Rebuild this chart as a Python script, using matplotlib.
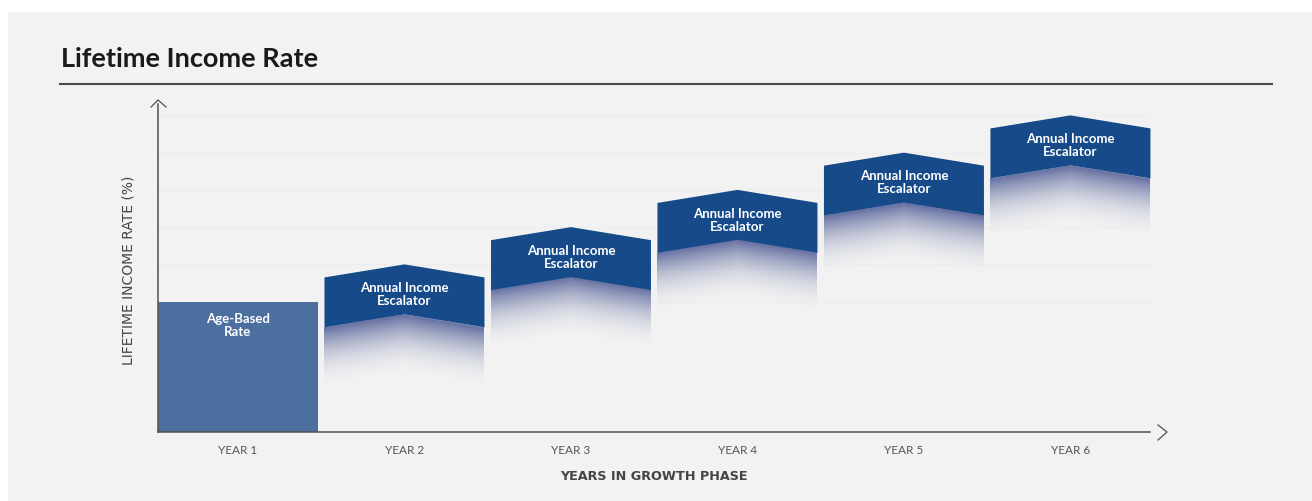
import numpy as np
import matplotlib
matplotlib.use("Agg")
import matplotlib.pyplot as plt
from matplotlib.patches import Polygon, Rectangle
from matplotlib.lines import Line2D

# chart data
years = ["YEAR 1", "YEAR 2", "YEAR 3", "YEAR 4", "YEAR 5", "YEAR 6"]
rates = [3.5, 4.5, 5.5, 6.5, 7.5, 8.5]
bar_labels = ["Age-Based\nRate"] + ["Annual Income\nEscalator"] * 5

# styles
BG = "#f2f2f2"
BASE_BLUE = "#4b6f9e"
ESC_BLUE = "#164a88"
FADE_RGB = np.array([63, 77, 140]) / 255.0
AXIS_COL = "#505050"
FONT = ["Lato", "DejaVu Sans"]
WIDE = ["DejaVu Sans"]

plt.rcParams["font.family"] = FONT

W, H = 1312, 501
fig = plt.figure(figsize=(W / 100, H / 100), dpi=100, facecolor="white")

# grey panel behind everything
fig.patches.append(Rectangle((8 / W, 0), 1 - 8 / W, 1 - 12 / H, transform=fig.transFigure,
                             facecolor=BG, edgecolor="none", zorder=-5))

# title and rule
fig.text(61 / W, 1 - 59 / H, "Lifetime Income Rate", fontsize=19.5, fontweight="bold",
         color="#1a1a1a", ha="left", va="center")
fig.lines.append(Line2D([60 / W, 1272 / W], [1 - 84 / H, 1 - 84 / H], transform=fig.transFigure,
                        color="#4a4a4a", lw=1.5))

ax = fig.add_axes([158 / W, (H - 432) / H, (1170 - 158) / W, (432 - 100) / H])
ax.set_facecolor("none")
for s in ax.spines.values():
    s.set_visible(False)

x = np.arange(len(years))
width = 0.961
peak = 0.35      # rise of the chevron
band = 1.34      # thickness of escalator band
fade = 1.7       # length of the fade under each band

x0, x1 = -0.4805, 5.598
y0, y1 = 0, 8.913

# faint grid
for r in rates:
    ax.plot([x0, 5.477], [r, r], color="#ededed", lw=0.8, zorder=1)

# year 1 base rate
ax.bar(x[0], rates[0], width=width, color=BASE_BLUE, zorder=2)
ax.text(x[0], rates[0] - 0.65, bar_labels[0], color="white", fontsize=9.5, fontweight="bold",
        ha="center", va="center", linespacing=1.1, zorder=5)

# escalator chevrons with fade below
for xi, r, lab in zip(x[1:], rates[1:], bar_labels[1:]):
    xl, xr = xi - width / 2, xi + width / 2
    pts = [(xl, r - peak), (xi, r), (xr, r - peak),
           (xr, r - peak - band), (xi, r - band), (xl, r - peak - band)]
    ax.add_patch(Polygon(pts, closed=True, facecolor=ESC_BLUE, edgecolor="none", zorder=3))

    top = r - band
    bot = top - peak - fade
    gx = np.linspace(xl, xr, 120)
    gy = np.linspace(bot, top, 200)
    GX, GY = np.meshgrid(gx, gy)
    edge = top - peak * np.abs(GX - xi) / (width / 2)
    t = (edge - GY) / fade
    alpha = np.where(GY <= edge, np.clip(1 - t, 0, 1) ** 2.2 * 0.8, 0)
    img = np.zeros(GX.shape + (4,))
    img[..., :3] = FADE_RGB
    img[..., 3] = alpha
    ax.imshow(img, extent=(xl, xr, bot, top), origin="lower", aspect="auto",
              interpolation="bilinear", zorder=2)

    ax.text(xi, r - 0.81, lab, color="white", fontsize=9.5, fontweight="bold",
            ha="center", va="center", linespacing=1.1, zorder=5)

# axes with open arrow heads
ax.plot([x0, x0], [0, 8.81], color=AXIS_COL, lw=1.1, clip_on=False, zorder=4)
ax.plot([-0.522, x0, -0.432], [8.725, 8.913, 8.725], color=AXIS_COL, lw=0.9, clip_on=False, zorder=4)
ax.plot([x0, 5.477], [0, 0], color=AXIS_COL, lw=1.1, clip_on=False, zorder=4)
ax.plot([5.526, 5.580, 5.526], [0.188, 0, -0.215], color=AXIS_COL, lw=0.9, clip_on=False, zorder=4)

ax.set_xlim(x0, x1)
ax.set_ylim(y0, y1)
ax.set_xticks(x)
ax.set_xticklabels(years, fontsize=8.5, color="#555555")
ax.tick_params(axis="x", length=0, pad=9)
ax.set_yticks([])

ax.set_xlabel("YEARS IN GROWTH PHASE", fontsize=9.2, fontweight="bold", color="#444444",
              family=WIDE)
ax.xaxis.set_label_coords((654 - 158) / (1170 - 158), -(470 - 432) / (432 - 100))
ax.set_ylabel("LIFETIME INCOME RATE (%)", fontsize=10, color="#444444", family=WIDE)
ax.yaxis.set_label_coords(-(158 - 135) / (1170 - 158), (432 - 270) / (432 - 100))

fig.savefig("out.png", dpi=100, facecolor=fig.get_facecolor())
